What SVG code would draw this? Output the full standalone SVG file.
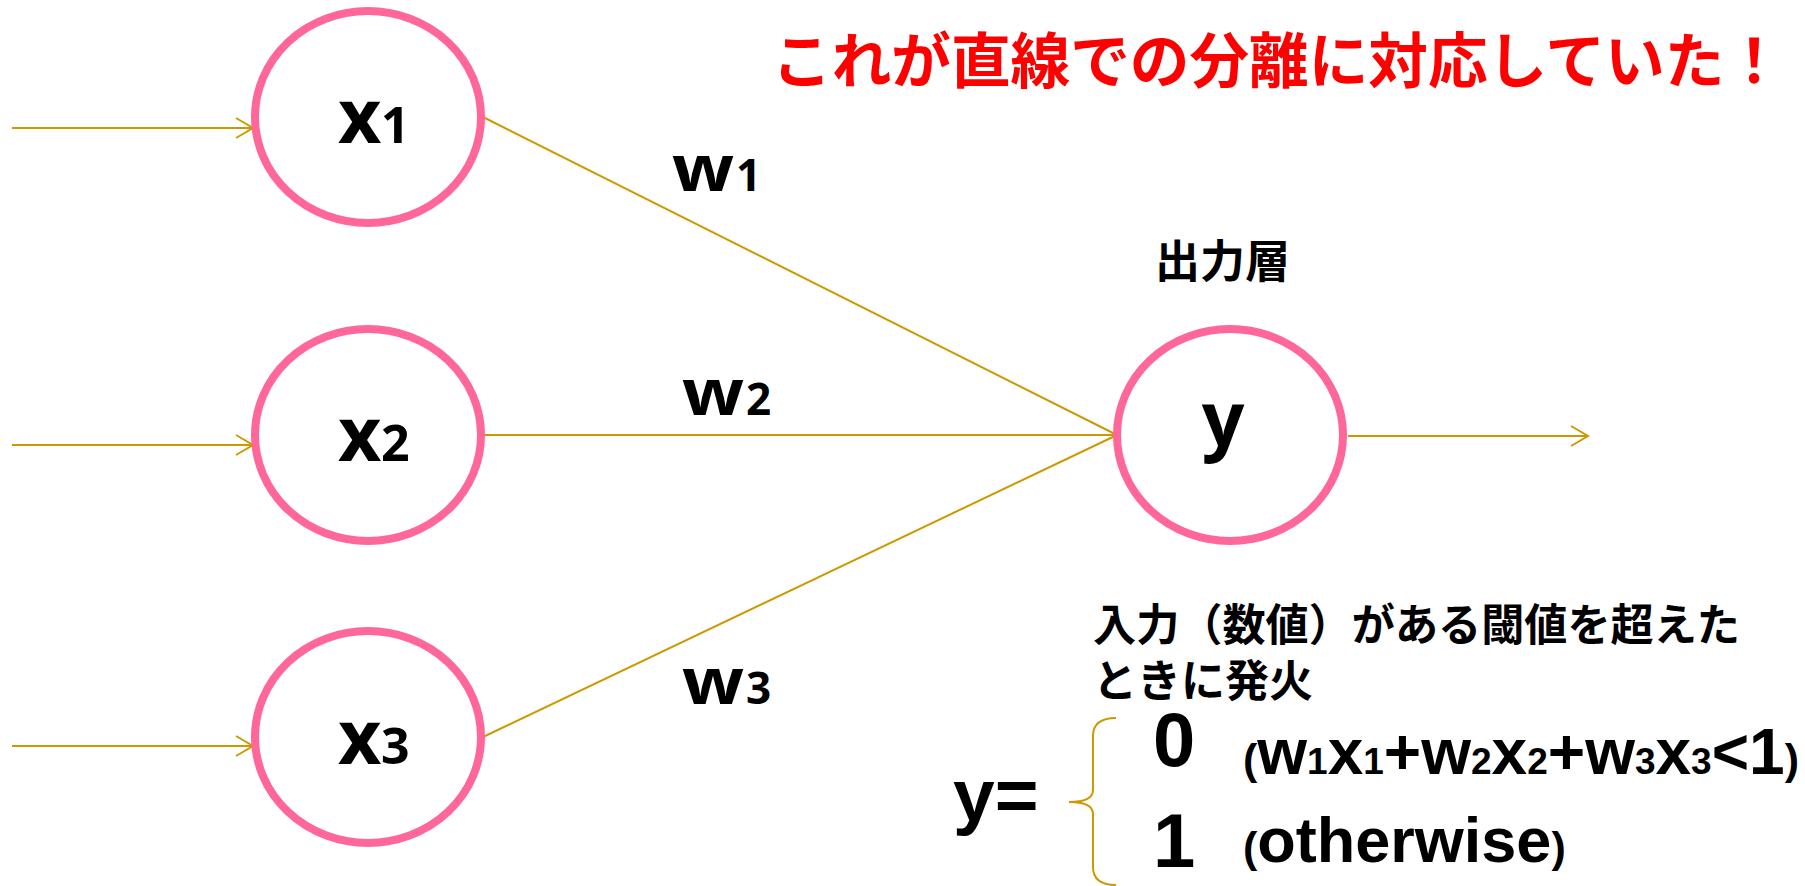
<svg xmlns="http://www.w3.org/2000/svg" width="1805" height="886" viewBox="0 0 1805 886">
<defs>
<style>
.node{fill:#fff;stroke:#FF6699;stroke-width:8}
.conn{stroke:#CC9900;stroke-width:2;fill:none}
.lbl{font-family:"Open Sans","Noto Sans",sans-serif;font-weight:bold;fill:#000}
.jp{font-family:"Noto Sans CJK JP",sans-serif;font-weight:bold;fill:#000}
.ar{font-family:"Liberation Sans",Arial,sans-serif;font-weight:bold;fill:#000}
</style>
<marker id="chev" viewBox="0 0 20 24" refX="18" refY="12" markerWidth="20" markerHeight="24" markerUnits="userSpaceOnUse" orient="auto">
<path d="M1,2 L18,12 L1,22" fill="none" stroke="#CC9900" stroke-width="2"/>
</marker>
</defs>
<rect width="1805" height="886" fill="#fff"/>

<g id="connectors">
<line class="conn" x1="12" y1="128" x2="253" y2="128" marker-end="url(#chev)"/>
<line class="conn" x1="12" y1="445" x2="253" y2="445" marker-end="url(#chev)"/>
<line class="conn" x1="12" y1="746" x2="253" y2="746" marker-end="url(#chev)"/>
<line class="conn" x1="483" y1="117" x2="1117" y2="435"/>
<line class="conn" x1="483" y1="435" x2="1117" y2="435"/>
<line class="conn" x1="483" y1="737" x2="1117" y2="435"/>
<line class="conn" x1="1348" y1="436" x2="1588" y2="436" marker-end="url(#chev)"/>
<path class="conn" d="M1116,718 Q1093,718 1093,736 L1093,790 Q1093,802 1069,802 Q1093,802 1093,814 L1093,867 Q1093,885 1116,885"/>
</g>

<g id="node-x1">
<ellipse class="node" cx="368" cy="117" rx="113" ry="106"/>
<text class="lbl" x="338" y="143" font-size="75">x<tspan x="381" font-size="50">1</tspan></text>
</g>
<g id="node-x2">
<ellipse class="node" cx="368" cy="435" rx="113" ry="106"/>
<text class="lbl" x="338" y="461" font-size="75">x<tspan x="381" font-size="50">2</tspan></text>
</g>
<g id="node-x3">
<ellipse class="node" cx="368" cy="737" rx="113" ry="106"/>
<text class="lbl" x="338" y="764" font-size="75">x<tspan x="381" font-size="50">3</tspan></text>
</g>
<g id="node-y">
<ellipse class="node" cx="1230" cy="435" rx="113" ry="106"/>
<text class="lbl" x="1223" y="446" font-size="75" text-anchor="middle">y</text>
</g>

<g id="weights">
<text class="lbl" x="672" y="191" font-size="64"><tspan textLength="62" lengthAdjust="spacingAndGlyphs">w</tspan><tspan x="736" font-size="44">1</tspan></text>
<text class="lbl" x="682" y="415" font-size="64"><tspan textLength="62" lengthAdjust="spacingAndGlyphs">w</tspan><tspan x="746" font-size="44">2</tspan></text>
<text class="lbl" x="682" y="704" font-size="64"><tspan textLength="62" lengthAdjust="spacingAndGlyphs">w</tspan><tspan x="746" font-size="44">3</tspan></text>
</g>

<text class="jp" x="772" y="83" font-size="60" fill="#FF0000" style="fill:#FF0000" textLength="1012" lengthAdjust="spacingAndGlyphs">これが直線での分離に対応していた！</text>
<text class="jp" x="1155" y="278" font-size="45">出力層</text>

<g id="rule">
<text class="jp" x="1093" y="641" font-size="44" textLength="647" lengthAdjust="spacingAndGlyphs">入力（数値）がある閾値を超えた</text>
<text class="jp" x="1093" y="697" font-size="44">ときに発火</text>
<text class="ar" x="953" y="821" font-size="75">y=</text>
<text class="ar" x="1153" y="766" font-size="76">0</text>
<text class="ar" x="1153" y="867" font-size="76">1</text>
<text class="ar" x="1243" y="774" font-size="64"><tspan font-size="43">(</tspan>w<tspan font-size="37">1</tspan>x<tspan font-size="37">1</tspan>+w<tspan font-size="37">2</tspan>x<tspan font-size="37">2</tspan>+w<tspan font-size="37">3</tspan>x<tspan font-size="37">3</tspan>&lt;1<tspan font-size="43">)</tspan></text>
<text class="ar" x="1243" y="862" font-size="63"><tspan font-size="43">(</tspan>otherwise<tspan font-size="43">)</tspan></text>
</g>
</svg>
